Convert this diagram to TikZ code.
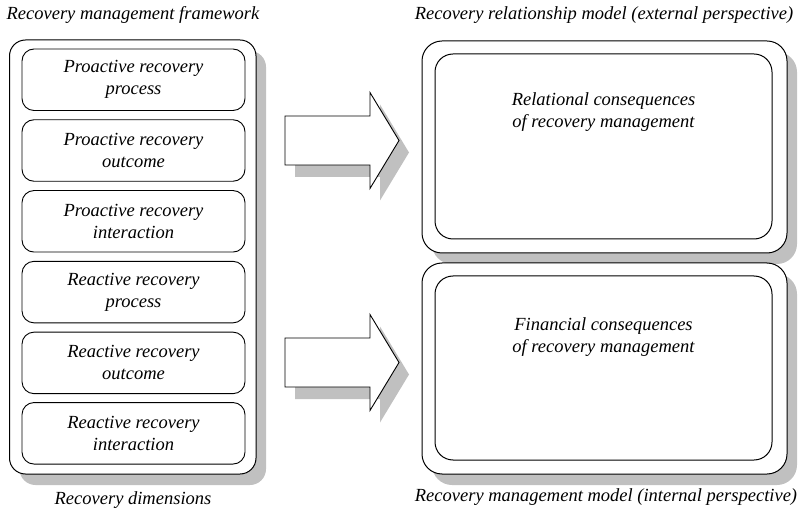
\documentclass[tikz,border=0pt]{standalone}
\usepackage{fontspec}
\setmainfont{Liberation Serif}
\usetikzlibrary{shadows,calc}
\definecolor{shadowgray}{RGB}{192,192,192}
\begin{document}
\begin{tikzpicture}[x=1pt,y=-1pt,
  txt/.style={font=\itshape\fontsize{18.5}{22}\selectfont,align=center,inner sep=0pt},
  shadowed/.style={drop shadow={shadow xshift=10pt,shadow yshift=-11pt,fill=shadowgray,opacity=1}},
  frame/.style={draw,line width=1pt,rounded corners=16pt,fill=white,shadowed,inner sep=0pt},
  panel/.style={draw,line width=1pt,rounded corners=18pt,fill=white,inner sep=0pt},
  dimbox/.style={txt,draw,line width=0.9pt,rounded corners=12pt,fill=white,
    minimum width=223pt,minimum height=61.5pt},
  blockarrow/.style={draw,line width=0.9pt,fill=white,line join=miter},
  arrowshadow/.style={fill=shadowgray,draw=none}]
\useasboundingbox (0,0) rectangle (805,510);

% left column: recovery dimensions
\node[frame,minimum width=246.5pt,minimum height=434pt] (frameL) at (132.75,257) {};
\node[dimbox] (d1) at (133.5,79.75)  {Proactive recovery\\process};
\node[dimbox] (d2) at (133.5,150.5)  {Proactive recovery\\outcome};
\node[dimbox] (d3) at (133.5,221.3)  {Proactive recovery\\interaction};
\node[dimbox] (d4) at (133.5,292.1)  {Reactive recovery\\process};
\node[dimbox] (d5) at (133.5,362.9)  {Reactive recovery\\outcome};
\node[dimbox] (d6) at (133.5,433.3)  {Reactive recovery\\interaction};

% right column: the two models
\node[frame,rounded corners=20pt,minimum width=365pt,minimum height=212pt] (frameA) at (604.5,147) {};
\node[panel,minimum width=337pt,minimum height=185pt] (panelA) at (603.5,146.5) {};
\node[txt] (relA) at (603.5,112.5) {Relational consequences\\of recovery management};

\node[frame,rounded corners=20pt,minimum width=365pt,minimum height=211pt] (frameB) at (604.5,368.5) {};
\node[panel,minimum width=337pt,minimum height=184pt] (panelB) at (603.5,368) {};
\node[txt] (finB) at (603.5,337.5) {Financial consequences\\of recovery management};

% block arrows between the columns
\coordinate (a1) at (285,140.5);
\coordinate (a2) at (285,362.5);
\foreach \a in {a1,a2}{
  \fill[arrowshadow,shift={($(\a)+(10,12)$)}]
    (0,-24.5) -- (85,-24.5) -- (85,-48) -- (114,0) -- (85,48) -- (85,24.5) -- (0,24.5) -- cycle;
  \draw[blockarrow,shift={(\a)}]
    (0,-24.5) -- (85,-24.5) -- (85,-48) -- (114,0) -- (85,48) -- (85,24.5) -- (0,24.5) -- cycle;
}

% captions
\node[txt] (capL)  at (133,15)  {Recovery management framework};
\node[txt] (capA)  at (604,15)  {Recovery relationship model (external perspective)};
\node[txt] (capD)  at (133,500) {Recovery dimensions};
\node[txt] (capB)  at (606,497) {Recovery management model (internal perspective)};
\end{tikzpicture}
\end{document}
